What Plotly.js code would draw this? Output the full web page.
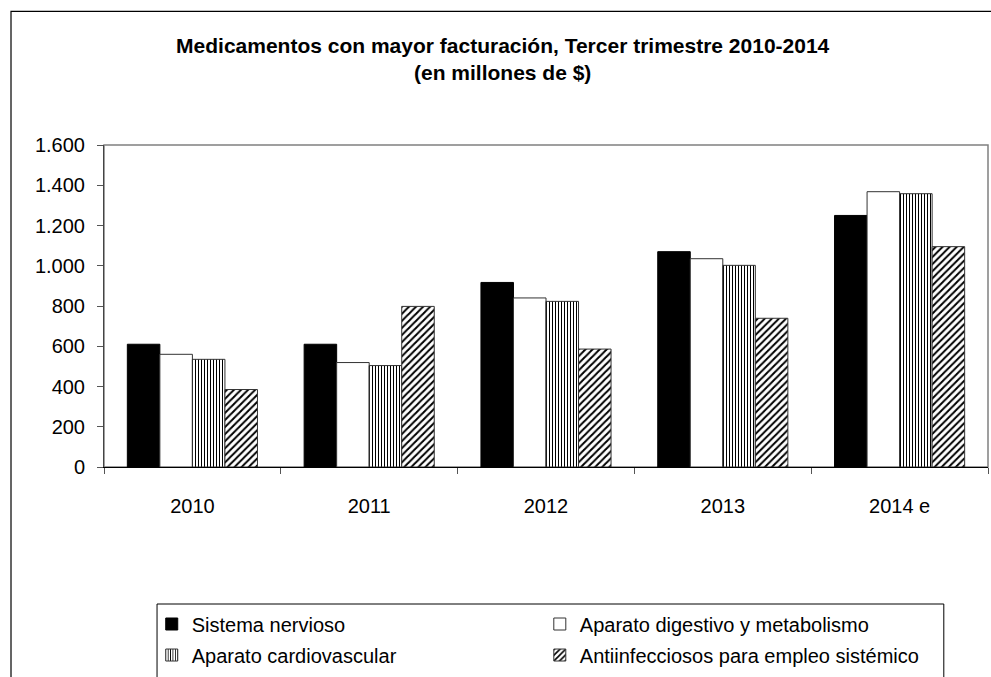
<!DOCTYPE html>
<html>
<head>
<meta charset="utf-8">
<script src="https://cdn.plot.ly/plotly-3.0.1.min.js"></script>
<style>
html,body{margin:0;padding:0;background:#fff;}
#chart{width:991px;height:677px;}
</style>
</head>
<body>
<div id="chart"></div>
<script>
const years = ["2010", "2011", "2012", "2013", "2014 e"];
const seriesNames = ["Sistema nervioso", "Aparato digestivo y metabolismo", "Aparato cardiovascular", "Antiinfecciosos para empleo sistémico"];
const sistemaNervioso = [610, 610, 917, 1070, 1250];
const aparatoDigestivo = [560, 519, 840, 1035, 1368];
const aparatoCardiovascular = [535, 504, 823, 1002, 1358];
const antiinfecciosos = [385, 798, 586, 739, 1095];
const yTicks = [0, 200, 400, 600, 800, 1000, 1200, 1400, 1600];

const font = "Liberation Sans, Arial, sans-serif";
const values = [sistemaNervioso, aparatoDigestivo, aparatoCardiovascular, antiinfecciosos];
const markers = [
  {color: "#000000", line: {color: "#000000", width: 1}},
  {color: "#ffffff", line: {color: "#333333", width: 1}},
  {color: "#ffffff", line: {color: "#333333", width: 1},
   pattern: {shape: "|", fgcolor: "#000000", bgcolor: "#ffffff", size: 3, solidity: 0.35}},
  {color: "#ffffff", line: {color: "#333333", width: 1},
   pattern: {shape: "/", fgcolor: "#000000", bgcolor: "#ffffff", size: 5, solidity: 0.4}}
];
const legendIds = ["legend", "legend2", "legend3", "legend4"];

const traces = values.map((v, i) => ({
  type: "bar",
  name: seriesNames[i],
  x: years,
  y: v,
  marker: markers[i],
  legend: legendIds[i],
  hoverinfo: "skip"
}));

function leg(x, y) {
  return {
    orientation: "v", x: x, y: y, xanchor: "left", yanchor: "middle",
    bgcolor: "rgba(0,0,0,0)", borderwidth: 0,
    font: {family: font, size: 20, color: "#000000"},
    itemclick: false, itemdoubleclick: false
  };
}

const layout = {
  width: 991,
  height: 677,
  margin: {l: 104, r: 3, t: 145, b: 210},
  paper_bgcolor: "#ffffff",
  plot_bgcolor: "#ffffff",
  separators: ",.",
  barmode: "group",
  bargap: 0.264,
  bargroupgap: 0,
  font: {family: font, size: 20, color: "#000000"},
  title: {
    text: "<b>Medicamentos con mayor facturación, Tercer trimestre 2010-2014<br>(en millones de $)</b>",
    font: {family: font, size: 21, color: "#000000"},
    x: 0.451, xref: "paper", xanchor: "center",
    y: 0.922, yref: "container", yanchor: "middle"
  },
  xaxis: {
    type: "category",
    showgrid: false,
    showline: true, linecolor: "#000000", linewidth: 1,
    ticks: "outside", tickson: "boundaries", ticklen: 6, tickcolor: "#555555",
    ticklabelstandoff: 21,
    tickfont: {family: font, size: 20, color: "#000000"},
    fixedrange: true
  },
  yaxis: {
    range: [0, 1600],
    tickvals: yTicks,
    tickformat: ",d",
    showgrid: false, zeroline: false,
    showline: true, linecolor: "#444444", linewidth: 1,
    ticks: "outside", ticklen: 6, tickcolor: "#555555",
    ticklabelstandoff: 8,
    tickfont: {family: font, size: 20, color: "#000000"},
    fixedrange: true
  },
  showlegend: true,
  legend: leg(0.054, -0.4876),
  legend2: leg(0.493, -0.4876),
  legend3: leg(0.054, -0.5839),
  legend4: leg(0.493, -0.5839),
  shapes: [
    {type: "rect", xref: "paper", yref: "paper", x0: 0, x1: 1, y0: 0, y1: 1,
     line: {color: "#808080", width: 1.5}, layer: "below"},
    {type: "rect", xref: "paper", yref: "paper", x0: 0.060, x1: 0.950, y0: -0.4255, y1: -0.70,
     line: {color: "#000000", width: 1}},
    {type: "rect", xref: "paper", yref: "paper", x0: -0.1052, x1: 1.01, y0: 1.4147, y1: -0.72,
     line: {color: "#000000", width: 1.2}}
  ]
};

Plotly.newPlot("chart", traces, layout, {displayModeBar: false, staticPlot: true});
</script>
</body>
</html>
